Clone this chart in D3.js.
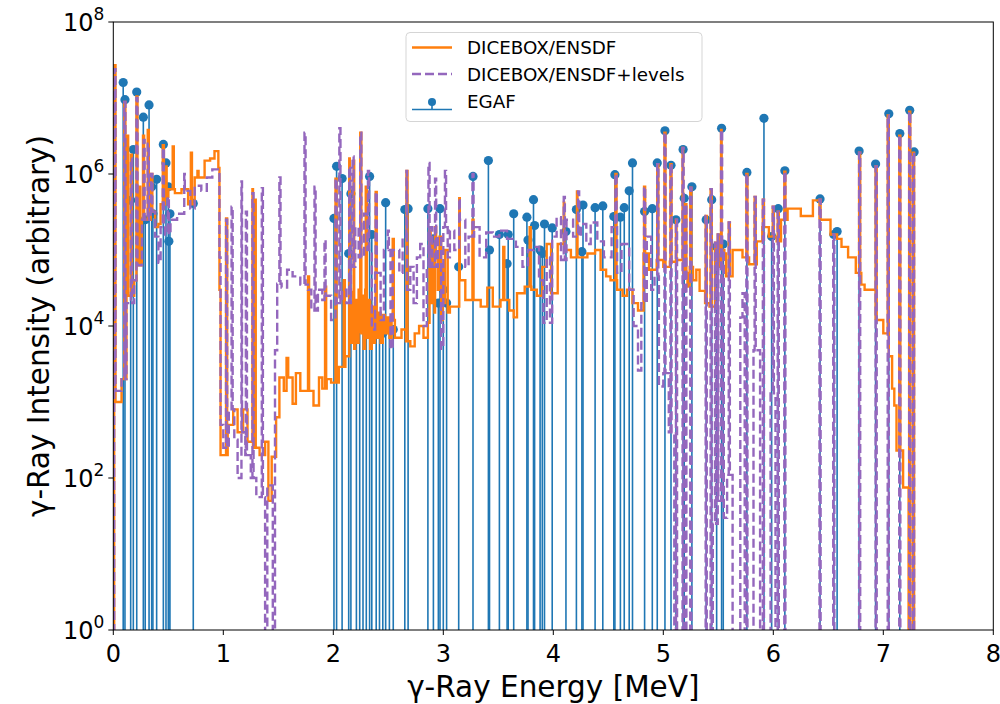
<!DOCTYPE html>
<html><head><meta charset="utf-8">
<script src="https://cdn.jsdelivr.net/npm/d3@7"></script>
<style>body{margin:0;background:#fff}svg{display:block}text{font-family:"DejaVu Sans",sans-serif;fill:#000}</style>
</head><body><svg id="c" width="1000" height="704"></svg>
<script>
const xTicks=[0,1,2,3,4,5,6,7,8];
const yTickExps=[0,2,4,6,8];
const seriesNames=["DICEBOX/ENSDF","DICEBOX/ENSDF+levels","EGAF"];
// DICEBOX/ENSDF continuum: [bin left edge MeV, intensity]
const ensdfSteps=[[0,0],[0.008,1e3],[0.075,2e3],[0.12,2.5e4],[0.19,4e4],[0.22,6.3e4],[0.26,2.5e5],[0.34,3.2e5],[0.38,2e5],[0.41,2.2e5],[0.43,4e5],[0.47,5e5],[0.5,6.3e5],[0.56,5.6e5],[0.62,6.3e5],[0.68,4e5],[0.74,9e5],[0.83,1.5e6],[0.88,1.6e6],[0.92,2e6],[0.955,1.2e6],[0.965,3e4],[0.975,2e2],[1.04,5e2],[1.09,8e2],[1.13,4e2],[1.18,8e2],[1.22,3e2],[1.27,2.5e2],[1.33,2e2],[1.38,3e2],[1.41,50],[1.44,1.9e2],[1.48,6.3e2],[1.51,2.1e3],[1.55,1.4e3],[1.575,3.8e3],[1.59,2.1e3],[1.63,9.5e2],[1.66,2.4e3],[1.7,1.4e3],[1.79,1.4e3],[1.82,9e2],[1.87,2.1e3],[1.9,1.5e3],[1.94,2e3],[1.98,1.8e3],[2.05,2.9e3],[2.11,4e3],[2.15,2e4],[2.165,6e3],[2.18,2.8e4],[2.19,5e3],[2.2,2.2e4],[2.215,6e3],[2.23,3e4],[2.245,8e3],[2.26,2.5e4],[2.275,5e3],[2.29,3e4],[2.305,7e3],[2.32,2.2e4],[2.335,5e3],[2.35,1.8e4],[2.365,6e3],[2.38,2e4],[2.395,7e3],[2.41,1.5e4],[2.43,6e3],[2.45,1.4e4],[2.47,8e3],[2.49,1.3e4],[2.51,7e3],[2.53,1.2e4],[2.56,7e3],[2.62,9e3],[2.66,6.3e3],[2.7,5.4e3],[2.74,8e3],[2.78,1e4],[2.82,7e3],[2.86,1.1e4],[2.875,8e4],[2.89,2e4],[2.905,1.2e5],[2.92,1.5e4],[2.935,9e4],[2.95,3e4],[2.965,1.5e5],[2.98,1.2e4],[2.995,6e4],[3.01,2e4],[3.025,1e5],[3.04,1.5e4],[3.06,1.8e4],[3.15,4e4],[3.2,2.2e4],[3.28,2.2e4],[3.34,1.8e4],[3.4,3.2e4],[3.45,1.8e4],[3.52,2.2e4],[3.6,1.6e4],[3.64,1.3e4],[3.67,2.7e4],[3.74,3.3e4],[3.8,3e4],[3.85,2.5e4],[3.9,6e4],[3.94,1.2e5],[3.98,2.7e4],[4.04,1.2e5],[4.1,1e5],[4.16,8e4],[4.22,8e4],[4.31,9e4],[4.38,1e5],[4.43,5.5e4],[4.48,4.5e4],[4.52,4e4],[4.58,3e4],[4.63,2.5e4],[4.67,3e4],[4.72,2e4],[4.77,1.6e4],[4.82,9e4],[4.87,5.5e4],[4.94,7.4e4],[5,6e4],[5.06,7e4],[5.12,7.4e4],[5.18,5e4],[5.22,3.3e4],[5.24,6e4],[5.27,4e4],[5.3,5.5e4],[5.33,2.9e4],[5.38,2e4],[5.42,1.8e4],[5.47,6e4],[5.53,9e4],[5.57,4.5e4],[5.63,1e5],[5.72,8e4],[5.78,6.5e4],[5.85,1.3e5],[5.9,2e5],[5.96,1.5e5],[6.03,1.3e5],[6.07,2.5e5],[6.13,3.5e5],[6.25,2.8e5],[6.36,4.5e5],[6.42,2.5e5],[6.52,1.6e5],[6.58,1.4e5],[6.62,1.1e5],[6.68,8e4],[6.75,5e4],[6.8,3.5e4],[6.83,3e4],[6.93,1.2e4],[7,8e3],[7.05,4e3],[7.08,1.5e3],[7.1,9e2],[7.12,2.3e2],[7.18,75],[7.23,0],[7.3,0]];
const ensdfPeaks=[[0.015,2.7e7],[0.105,8.9e6],[0.13,3.2e6],[0.165,1.8e6],[0.215,1.05e7],[0.24,6.8e5],[0.275,3.2e6],[0.318,3.8e6],[0.35,1e6],[0.455,2.4e6],[0.48,1.26e6],[0.545,2.3e6],[0.71,1.9e6],[0.77,1.1e6],[1.03,2.6e5],[1.27,6.3e5],[1.29,4.6e5],[1.775,4.5e4],[1.93,3.3e4],[2.025,8.7e5],[2.1,4e4],[2.15,1.6e6],[2.19,1.5e6],[2.25,3.5e6],[2.3,6.8e5],[2.39,5.8e5],[2.545,1.4e5],[2.67,1.1e6],[2.88,1.8e5],[2.93,2e5],[3.02,1e5],[3.15,4.8e5],[3.27,2.5e5],[3.55,1.1e5],[3.79,2e5],[4.1,4.2e5],[4.22,5.9e5]];
// DICEBOX/ENSDF+levels continuum
const levelsSteps=[[0,0],[0.008,1.4e3],[0.075,2e3],[0.12,2e4],[0.19,4e4],[0.22,6.3e4],[0.26,2.5e5],[0.34,3.2e5],[0.38,1.5e5],[0.41,6.8e4],[0.43,2e5],[0.47,1.6e5],[0.52,2.5e5],[0.58,3e5],[0.65,6e5],[0.7,3.5e5],[0.74,7e5],[0.8,6e5],[0.85,9e5],[0.9,1.15e6],[0.965,8e4],[0.975,5e2],[1,2.5e2],[1.05,8e2],[1.1,3.2e2],[1.13,1e2],[1.17,4e2],[1.2,2e2],[1.25,1e2],[1.3,56],[1.38,0],[1.4,80],[1.45,0],[1.47,4.8e3],[1.49,3.6e4],[1.53,3.2e4],[1.58,5.5e4],[1.63,4.5e4],[1.7,3.5e4],[1.77,3e4],[1.8,1.6e4],[1.86,3e4],[1.9,2.2e4],[1.93,2.5e4],[1.98,1.2e4],[2.02,2e4],[2.08,3e4],[2.12,2e4],[2.16,6e4],[2.2,2e5],[2.23,8e4],[2.28,3e5],[2.31,1e5],[2.35,9e3],[2.38,5e4],[2.43,1.2e4],[2.46,1e5],[2.52,5e3],[2.54,1e5],[2.6,5e4],[2.63,1.5e5],[2.67,3e4],[2.7,6e4],[2.73,2e4],[2.76,8e4],[2.79,1.2e5],[2.82,1e4],[2.85,6e4],[2.88,2e5],[2.9,6e4],[2.95,1.5e5],[2.98,5e3],[3,2e5],[3.04,8e4],[3.06,1.8e5],[3.1,1e5],[3.15,2.5e5],[3.2,6e4],[3.23,1.5e5],[3.28,2e5],[3.33,8e4],[3.39,1.7e5],[3.45,1.5e5],[3.51,1.8e5],[3.58,1.4e5],[3.66,1.1e5],[3.72,6e4],[3.77,1e5],[3.82,1.1e5],[3.87,4e4],[3.91,1.1e4],[3.94,8e4],[3.97,1.1e4],[3.99,1.5e5],[4.03,2.7e5],[4.07,7.4e4],[4.12,2.5e5],[4.18,1.5e5],[4.25,2.2e5],[4.3,1.2e5],[4.34,2.3e5],[4.4,1.3e5],[4.46,8e4],[4.53,2e5],[4.58,5e4],[4.62,1.2e5],[4.65,1.2e5],[4.69,3e4],[4.73,1e4],[4.77,2.6e3],[4.8,2e4],[4.85,1.5e5],[4.89,3e4],[4.92,4.5e4],[4.96,1.6e3],[5,2.4e3],[5.05,4e2],[5.1,0],[5.45,25],[5.5,50],[5.55,30],[5.58,1.1e2],[5.63,0],[5.7,1.3e4],[5.72,2.7e4],[5.74,0],[5.82,4.8e3],[5.88,0],[5.975,1.3e3],[6.02,0],[7.3,0]];
const levelsPeaks=[[0.015,2.4e7],[0.105,8.9e6],[0.165,1.6e6],[0.215,1e7],[0.28,2.8e6],[0.318,2.5e6],[0.35,1e6],[0.455,2.2e6],[0.5,5e5],[0.65,1e6],[1.03,2.5e5],[1.08,3.7e5],[1.17,8e5],[1.21,3.2e5],[1.27,5.6e5],[1.355,6.5e5],[1.515,9e5],[1.743,3.5e6],[1.834,6.8e5],[1.925,1.35e5],[2.025,8.7e5],[2.06,4e6],[2.15,1.26e6],[2.18,1.7e6],[2.25,3.5e6],[2.32,1.1e6],[2.39,5.8e5],[2.5,1.8e5],[2.6,1e5],[2.67,1.1e6],[2.87,1.4e6],[2.93,8.7e5],[3.02,1.1e6],[3.15,4.8e5],[3.27,1e6],[4.1,5e5],[4.23,5.9e5]];
// peaks present in both DICEBOX spectra above 4.5 MeV
const commonPeaks=[[4.57,1e6],[4.83,6.8e5],[4.95,1.35e6],[5.015,3.5e6],[5.07,1.35e6],[5.12,2.5e5],[5.18,2.2e6],[5.205,4e5],[5.25,6.6e5],[5.39,2.8e5],[5.435,6.3e5],[5.475,1.25e5],[5.5,1.6e5],[5.53,3.8e6],[5.55,1e5],[5.6,2.3e5],[5.76,1e6],[5.835,5e5],[5.91,4.6e5],[6,3.7e5],[6.045,3.2e5],[6.105,1.07e6],[6.425,4.6e5],[6.55,1.6e5],[6.785,1.9e6],[6.935,1.26e6],[7.045,5.9e6],[7.15,3.2e6],[7.24,6.6e6],[7.275,1.9e6]];
// EGAF lines
const egafE=[0.09,0.106,0.158,0.182,0.213,0.273,0.29,0.325,0.349,0.36,0.394,0.455,0.479,0.5,0.505,0.515,0.727,2.006,2.03,2.08,2.14,2.16,2.21,2.24,2.27,2.3,2.33,2.35,2.39,2.42,2.45,2.476,2.51,2.545,2.65,2.68,2.86,2.91,2.955,2.97,3.0,3.03,3.14,3.27,3.41,3.42,3.51,3.58,3.59,3.64,3.76,3.77,3.82,3.83,3.88,3.9,3.92,3.99,4.115,4.21,4.26,4.27,4.38,4.45,4.55,4.56,4.61,4.645,4.69,4.72,4.83,4.9,4.945,5.015,5.07,5.115,5.18,5.19,5.26,5.39,5.44,5.485,5.53,5.545,5.76,5.915,5.985,6.045,6.105,6.425,6.55,6.58,6.78,6.93,7.05,7.15,7.24,7.28];
const egafI=[1.6e7,9.5e6,4.5e5,2.1e6,1.2e7,5.6e6,2.5e5,8.1e6,6.8e5,3e5,8.5e5,2.45e6,1.4e6,6.8e5,1.3e5,3e5,4.1e5,2.6e5,1.26e6,8.7e5,9e4,5.5e5,1.5e4,1.2e4,1.5e4,1.2e4,9.3e5,1.6e5,1e4,1e4,8e3,4.2e5,9e3,9e3,3.4e5,3.5e5,3.5e5,1.4e5,2e4,3.5e5,3e4,2e4,6e4,9.3e5,1.5e6,1e5,1.6e5,6.6e4,1.6e5,3e5,2.7e5,1.35e5,4.6e5,2.1e5,1e5,9e4,2.2e5,1.95e5,1.75e5,3.4e5,9.5e4,3.9e5,3.6e5,3.8e5,2.75e5,9.8e5,2.7e5,3.6e5,6e5,1.4e6,3.2e5,3.5e5,1.4e6,3.7e6,1.3e6,2.5e5,2.1e6,4.8e5,6.8e5,2.5e5,4.6e5,1.1e5,4e6,1.2e5,1.05e6,5.4e6,1.5e5,3.5e5,1.1e6,4.7e5,1.6e5,1.75e5,2e6,1.35e6,6.2e6,3.4e6,6.9e6,1.95e6];

const L=113.3,R=993.3,T=22,B=630;
const svg=d3.select("#c");
const x=d3.scaleLinear().domain([0,8]).range([L,R]);
const y=d3.scaleLog().domain([1,1e8]).range([B,T]);
const C={orange:"#ff7f0e",purple:"#9467bd",blue:"#1f77b4"};

svg.append("defs").append("clipPath").attr("id","pc").append("rect")
  .attr("x",L).attr("y",T).attr("width",R-L).attr("height",B-T);
const plot=svg.append("g").attr("clip-path","url(#pc)");

function contAt(steps,e){let v=0;for(const s of steps){if(s[0]<=e+1e-9)v=s[1];else break;}return v;}
function buildSeries(steps,peaks,w){
  const pts=steps.map(s=>[s[0],s[1],0]);
  peaks.forEach(p=>{
    const a=p[0]-w/2,b=p[0]+w/2;
    pts.push([a,Math.max(p[1],contAt(steps,a)),1]);
    pts.push([b,contAt(steps,b),2]);
  });
  pts.sort((u,v)=>u[0]-v[0]||u[2]-v[2]);
  return pts;
}
const line=d3.line().x(d=>x(d[0])).y(d=>d[1]>0?y(d[1]):B+80).curve(d3.curveStepAfter);

// EGAF stems
const eg=egafE.map((e,i)=>[e,egafI[i]]);
plot.append("g").selectAll("line").data(eg).join("line")
  .attr("x1",d=>x(d[0])).attr("x2",d=>x(d[0])).attr("y1",B+5).attr("y2",d=>y(d[1]))
  .attr("stroke",C.blue).attr("stroke-width",1.6);
plot.append("g").selectAll("circle").data(eg).join("circle")
  .attr("cx",d=>x(d[0])).attr("cy",d=>y(d[1])).attr("r",4.6).attr("fill",C.blue);

const ensdf=buildSeries(ensdfSteps,ensdfPeaks.concat(commonPeaks),0.01);
const levels=buildSeries(levelsSteps,levelsPeaks.concat(commonPeaks),0.01);
plot.append("path").attr("d",line(ensdf)).attr("fill","none").attr("stroke",C.orange)
  .attr("stroke-width",2.4);
plot.append("path").attr("d",line(levels)).attr("fill","none").attr("stroke",C.purple)
  .attr("stroke-width",2.4).attr("stroke-dasharray","9,4");

// axes frame
svg.append("rect").attr("x",L).attr("y",T).attr("width",R-L).attr("height",B-T)
  .attr("fill","none").attr("stroke","#000").attr("stroke-width",1);
const gx=svg.append("g");
xTicks.forEach(t=>{
  gx.append("line").attr("x1",x(t)).attr("x2",x(t)).attr("y1",B).attr("y2",B+5).attr("stroke","#000");
  gx.append("text").attr("x",x(t)).attr("y",B+32).attr("text-anchor","middle").attr("font-size",24).text(t);
});
const gy=svg.append("g");
yTickExps.forEach(p=>{
  const yy=y(Math.pow(10,p));
  gy.append("line").attr("x1",L-5).attr("x2",L).attr("y1",yy).attr("y2",yy).attr("stroke","#000");
  const t=gy.append("text").attr("x",L-9).attr("y",yy+9).attr("text-anchor","end").attr("font-size",24);
  t.append("tspan").text("10");
  t.append("tspan").attr("dy",-11).attr("font-size",17).text(p);
});
svg.append("text").attr("x",(L+R)/2).attr("y",697).attr("text-anchor","middle").attr("font-size",29.5).text("γ-Ray Energy [MeV]");
svg.append("text").attr("transform",`translate(49,${(T+B)/2}) rotate(-90)`).attr("text-anchor","middle").attr("font-size",29.5).text("γ-Ray Intensity (arbitrary)");

// legend
const lg=svg.append("g");
lg.append("rect").attr("x",406).attr("y",32.5).attr("width",296).attr("height",89).attr("rx",4)
  .attr("fill","#fff").attr("fill-opacity",0.8).attr("stroke","#d5d5d5");
const rows=[47.5,74,101];
lg.append("line").attr("x1",412).attr("x2",452).attr("y1",rows[0]).attr("y2",rows[0]).attr("stroke",C.orange).attr("stroke-width",2.4);
lg.append("line").attr("x1",412).attr("x2",452).attr("y1",rows[1]).attr("y2",rows[1]).attr("stroke",C.purple).attr("stroke-width",2.4).attr("stroke-dasharray","9,4");
lg.append("line").attr("x1",412).attr("x2",452).attr("y1",rows[2]+8.5).attr("y2",rows[2]+8.5).attr("stroke",C.blue).attr("stroke-width",1.6);
lg.append("line").attr("x1",432).attr("x2",432).attr("y1",rows[2]+8.5).attr("y2",rows[2]+1).attr("stroke",C.blue).attr("stroke-width",1.6);
lg.append("circle").attr("cx",432).attr("cy",rows[2]+1).attr("r",4).attr("fill",C.blue);
seriesNames.forEach((n,i)=>{
  lg.append("text").attr("x",467).attr("y",rows[i]+6.5).attr("font-size",18.3).text(n);
});
</script></body></html>
